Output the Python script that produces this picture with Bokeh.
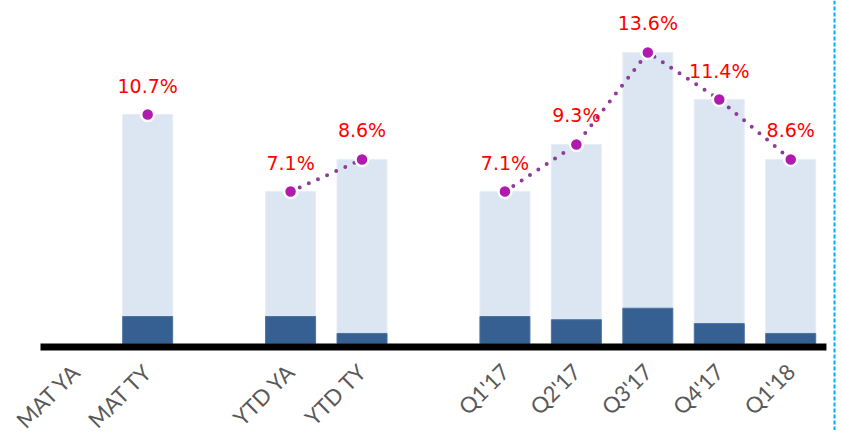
import numpy as np
from bokeh.plotting import figure
from bokeh.models import ColumnDataSource, FixedTicker, LinearAxis, Span, Range1d
from bokeh.embed import file_html
from bokeh.resources import INLINE
from bokeh.core.properties import value

# ---- data ----
categories = ["MAT YA", "MAT TY", "YTD YA", "YTD TY", "Q1'17", "Q2'17", "Q3'17", "Q4'17", "Q1'18"]
slots = [0, 1, 3, 4, 6, 7, 8, 9, 10]
growth = [np.nan, 10.7, 7.1, 8.6, 7.1, 9.3, 13.6, 11.4, 8.6]
base = [np.nan, 1.26, 1.26, 0.47, 1.26, 1.11, 1.65, 0.93, 0.47]
growth_labels = ["", "10.7%", "7.1%", "8.6%", "7.1%", "9.3%", "13.6%", "11.4%", "8.6%"]
ytd_group = ["YTD YA", "YTD TY"]
qtr_group = ["Q1'17", "Q2'17", "Q3'17", "Q4'17", "Q1'18"]

# ---- layout constants (pixels) ----
PX_X = 71.45          # pixels per slot
PX_Y = 21.4           # pixels per percentage point
fig_w, fig_h = 838, 430
zero_px = 343         # zero line, px from figure top
x0_px = 40            # left edge of first slot, px from figure left

x_start = -0.5 - x0_px / PX_X
x_end = x_start + fig_w / PX_X
y_end = zero_px / PX_Y
y_start = -(fig_h - zero_px) / PX_Y

src = ColumnDataSource(dict(
    x=[s for s, g in zip(slots, growth) if not np.isnan(g)],
    top=[g for g in growth if not np.isnan(g)],
    base=[b for b in base if not np.isnan(b)],
    label=[l for l, g in zip(growth_labels, growth) if not np.isnan(g)],
))

def group_src(names):
    idx = [categories.index(n) for n in names]
    return ColumnDataSource(dict(x=[slots[i] for i in idx], y=[growth[i] for i in idx]))

p = figure(width=fig_w, height=fig_h,
           x_range=Range1d(x_start, x_end), y_range=Range1d(y_start, y_end),
           output_backend="svg", toolbar_location=None,
           x_axis_location=None, y_axis_location=None,
           min_border=0, outline_line_color=None)
p.grid.visible = False

# bars
p.vbar(x="x", bottom="base", top="top", width=0.7, source=src,
       fill_color="#DCE6F2", line_color="#E6EDF6", line_width=1)
p.vbar(x="x", bottom=0, top="base", width=0.7, source=src,
       fill_color="#366092", line_color="#4A72A0", line_width=1)

# base line
lw = 7
p.segment(x0=[slots[0] - 0.5], x1=[slots[-1] + 0.5], y0=[-lw / 2 / PX_Y], y1=[-lw / 2 / PX_Y],
          line_color="black", line_width=lw)

# dotted lines
for names in (ytd_group, qtr_group):
    p.line(x="x", y="y", source=group_src(names), line_color="#8E3C99", line_width=4,
           line_dash="0 10", line_cap="round")

# points
p.scatter(x="x", y="top", source=src, size=13, fill_color="#B01AAE",
          line_color="white", line_width=2.5)

# labels
p.text(x="x", y="top", text="label", source=src, text_color="#FF0000",
       text_font=value("DejaVu Sans"), text_font_size="19px",
       text_align="center", text_baseline="alphabetic", y_offset=-29)

# x axis
xaxis = LinearAxis(fixed_location=0, ticker=FixedTicker(ticks=slots),
                   major_label_overrides={s: c for s, c in zip(slots, categories)},
                   major_label_orientation=np.pi / 4,
                   axis_line_color=None, major_tick_line_color=None,
                   minor_tick_line_color=None,
                   major_label_text_font="Lato", major_label_text_font_size="22px",
                   major_label_text_color="#595959", major_label_standoff=18)
p.add_layout(xaxis, "below")

# right dashed marker line
p.add_layout(Span(location=-0.5 + (834 - 40) / PX_X, dimension="height",
                  line_color="#00B0F0", line_width=2, line_dash="4 2"))

open("out.html", "w").write(file_html(p, INLINE))
